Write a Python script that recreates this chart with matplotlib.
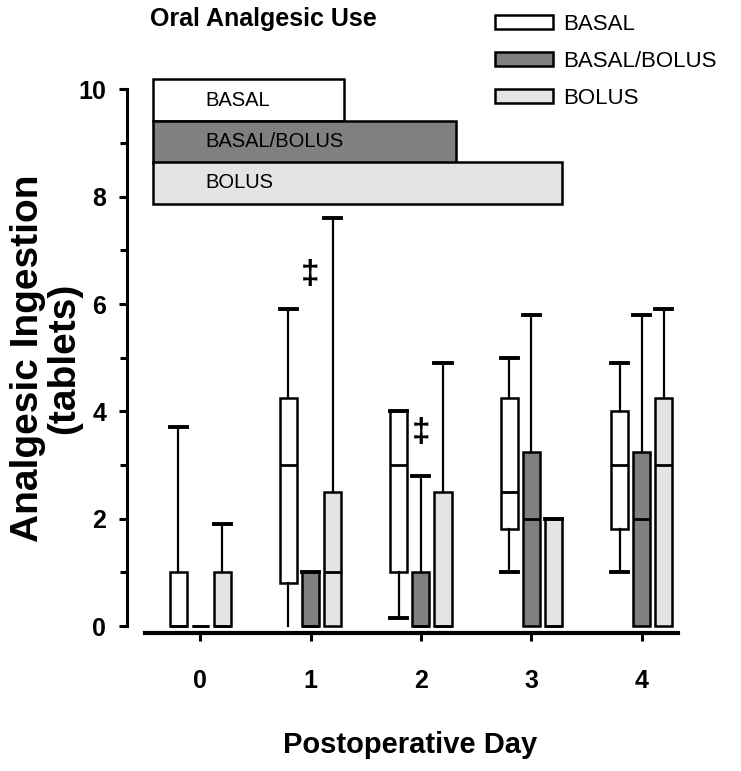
import numpy as np
import matplotlib
matplotlib.use("Agg")
import matplotlib.pyplot as plt
from matplotlib.patches import Patch

plt.rcParams['font.family'] = ['Liberation Sans', 'DejaVu Sans']

# data
days = [0, 1, 2, 3, 4]
groups = ['BASAL', 'BASAL/BOLUS', 'BOLUS']
colors = ['white', '#808080', '#e4e4e4']

basal_q1 = [0, 0.8, 1.0, 1.8, 1.8]
basal_med = [0, 3.0, 3.0, 2.5, 3.0]
basal_q3 = [1.0, 4.25, 4.0, 4.25, 4.0]
basal_lo = [0, 0, 0.15, 1.0, 1.0]
basal_hi = [3.7, 5.9, 4.0, 5.0, 4.9]

bb_q1 = [0, 0, 0, 0, 0]
bb_med = [0, 0, 0, 2.0, 2.0]
bb_q3 = [0, 1.0, 1.0, 3.25, 3.25]
bb_lo = [0, 0, 0, 0, 0]
bb_hi = [0, 1.0, 2.8, 5.8, 5.8]

bolus_q1 = [0, 0, 0, 0, 0]
bolus_med = [0, 1.0, 0, 0, 3.0]
bolus_q3 = [1.0, 2.5, 2.5, 2.0, 4.25]
bolus_lo = [0, 0, 0, 0, 0]
bolus_hi = [1.9, 7.6, 4.9, 2.0, 5.9]

# infusion duration bars at the top
infusion_start = -0.43
infusion_end = [1.30, 2.32, 3.28]

# significance marks
sig_day = [1, 2]
sig_y = [6.55, 3.6]

series = [
    (basal_q1, basal_med, basal_q3, basal_lo, basal_hi),
    (bb_q1, bb_med, bb_q3, bb_lo, bb_hi),
    (bolus_q1, bolus_med, bolus_q3, bolus_lo, bolus_hi),
]
offsets = [-0.2, 0.0, 0.2]
bw = 0.155

fig = plt.figure(figsize=(7.41, 7.71), dpi=100)
ax = fig.add_axes([0.1957, 0.179, 0.7193, 0.726])

for (q1, med, q3, lo, hi), off, col in zip(series, offsets, colors):
    stats = []
    for i in range(len(days)):
        stats.append(dict(q1=q1[i], med=med[i], q3=q3[i], whislo=lo[i], whishi=hi[i], fliers=[]))
    res = ax.bxp(stats, positions=np.array(days) + off, widths=bw, capwidths=bw,
                 patch_artist=True, showfliers=False, manage_ticks=False,
                 boxprops=dict(facecolor=col, edgecolor='black', linewidth=1.8),
                 medianprops=dict(color='black', linewidth=2),
                 whiskerprops=dict(color='black', linewidth=1.6),
                 capprops=dict(color='black', linewidth=2.8))
    # caps sitting on zero are not drawn in the original
    for cap in res['caps']:
        if np.allclose(cap.get_ydata(), 0):
            cap.set_visible(False)

# infusion bars
bar_y = [9.8, 9.02, 8.26]
ax.barh(bar_y, np.array(infusion_end) - infusion_start, left=infusion_start, height=0.78,
        color=colors, edgecolor='black', linewidth=1.8)
for y, g in zip(bar_y, groups):
    ax.text(0.05, y, g, ha='left', va='center', fontsize=14.5)

for d, y in zip(sig_day, sig_y):
    ax.text(d, y, '\u2021', ha='center', va='center', fontsize=24, fontweight='bold')

ax.set_xlim(-0.5, 4.33)
ax.set_ylim(-0.13, 10.3)
ax.spines['top'].set_visible(False)
ax.spines['right'].set_visible(False)
ax.spines['left'].set_position(('outward', 13))
ax.spines['left'].set_bounds(0, 10)
ax.spines['left'].set_linewidth(2.2)
ax.spines['bottom'].set_linewidth(3)

ax.set_xticks(days)
ax.set_yticks([0, 2, 4, 6, 8, 10])
ax.set_yticks([1, 3, 5, 7, 9], minor=True)
ax.tick_params(axis='x', length=6, width=2.2, pad=20, labelsize=18)
ax.tick_params(axis='y', which='major', length=6, width=2.2, pad=9, labelsize=18)
ax.tick_params(axis='y', which='minor', length=5, width=2.2)
for lab in ax.get_xticklabels() + ax.get_yticklabels():
    lab.set_fontweight('bold')

fig.text(150 / 741, 1 - 19 / 771, 'Oral Analgesic Use', ha='left', va='center',
         fontsize=18, fontweight='bold')
fig.text(410 / 741, 1 - 745 / 771, 'Postoperative Day', ha='center', va='center',
         fontsize=21, fontweight='bold')
fig.text(46 / 741, 1 - 358 / 771, 'Analgesic Ingestion\n(tablets)', ha='center', va='center',
         rotation=90, fontsize=28, fontweight='bold', linespacing=1.0)

handles = [Patch(facecolor=c, edgecolor='black', linewidth=1.8) for c in colors]
fig.legend(handles, groups, loc='upper left', bbox_to_anchor=(495 / 741, 1 - 14 / 771),
           frameon=False, fontsize=16, handlelength=2.6, handleheight=0.62,
           handletextpad=0.45, labelspacing=0.72, borderpad=0, borderaxespad=0)

fig.savefig('out.png', dpi=100)
